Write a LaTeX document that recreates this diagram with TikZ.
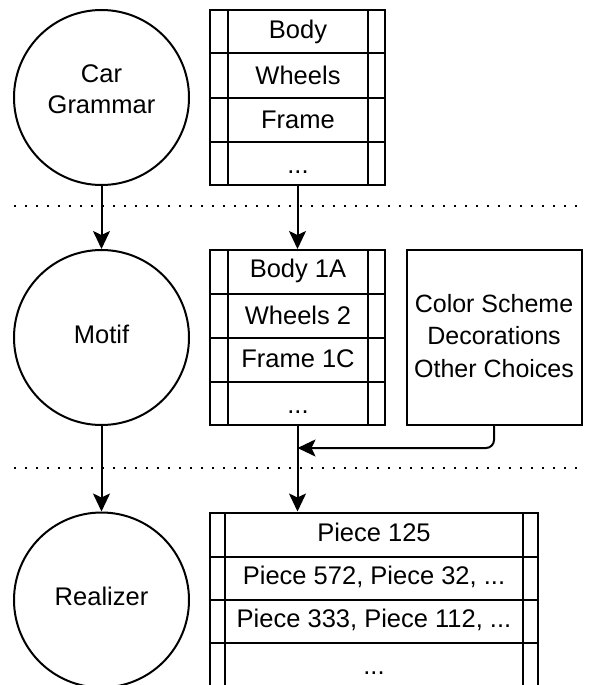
\documentclass[tikz,border=0pt]{standalone}
\usepackage{fontspec}
\setmainfont{Liberation Sans}
\usetikzlibrary{arrows.meta,calc}

\tikzset{
  stroke/.style={line width=2pt, draw=black},
  stage/.style={stroke, circle, minimum size=175pt, inner sep=0pt},
  tableframe/.style={stroke, rectangle, inner sep=0pt},
  cell/.style={inner sep=0pt, font=\fontsize{25.5}{31}\selectfont},
  note/.style={stroke, rectangle, minimum width=175pt, minimum height=175pt,
    inner sep=0pt},
  arr/.style={line width=2pt, -{Stealth[length=18pt, width=17pt, inset=4pt]}},
  sep/.style={line width=2pt, dash pattern=on 2pt off 9pt},
}

\begin{document}
\begin{tikzpicture}[x=1pt, y=-1pt]
\useasboundingbox (0,0) rectangle (589,685);

% Stage circles and their titles
\node[stage] (grammar) at (101.5,97.5) {};
\node[stage] (motif) at (101.5,337.5) {};
\node[stage] (realizer) at (101.5,600) {};
\node[cell, align=center] (grammartext) at (101.5,89) {Car\\Grammar};
\node[cell] (motiftext) at (101.5,334) {Motif};
\node[cell] (realizertext) at (101.5,596) {Realizer};

% Separators between the stages
\draw[sep] (14,206) -- (580,206);
\draw[sep] (14,468) -- (580,468);

% Parts table
\node[tableframe, minimum width=175pt, minimum height=175pt] (parts) at (297.5,97.5) {};
\foreach \y in {53.5,97.5,141.5} \draw[stroke] (210,\y) -- (385,\y);
\draw[stroke] (228,10) -- (228,185);
\draw[stroke] (368,10) -- (368,185);
\node[cell] (p1) at (298,31.5) {Body};
\node[cell] (p2) at (298,75.5) {Wheels};
\node[cell] (p3) at (298,119.5) {Frame};
\node[cell] (p4) at (298,172) {...};

% Chosen parts table
\node[tableframe, minimum width=175pt, minimum height=175pt] (choice) at (297.5,337.5) {};
\foreach \y in {293.5,338,381.5} \draw[stroke] (210,\y) -- (385,\y);
\draw[stroke] (228,250) -- (228,425);
\draw[stroke] (368,250) -- (368,425);
\node[cell] (c1) at (298,271) {Body 1A};
\node[cell] (c2) at (298,315) {Wheels 2};
\node[cell] (c3) at (298,359) {Frame 1C};
\node[cell] (c4) at (298,412) {...};

% Other choices box
\node[note] (other) at (494,337.5) {};
\node[cell, align=center, font=\fontsize{25}{32.5}\selectfont] (othertext) at (494,336)
  {Color Scheme\\Decorations\\Other Choices};

% Pieces table
\node[tableframe, minimum width=328pt, minimum height=175pt] (pieces) at (374,600) {};
\foreach \y in {556.7,600,643.3} \draw[stroke] (210,\y) -- (538,\y);
\draw[stroke] (225,512.5) -- (225,687.5);
\draw[stroke] (523,512.5) -- (523,687.5);
\node[cell] (q1) at (374,532.5) {Piece 125};
\node[cell] (q2) at (374,576.5) {Piece 572, Piece 32, ...};
\node[cell] (q3) at (374,620) {Piece 333, Piece 112, ...};
\node[cell] (q4) at (374,673) {...};

% Connectors
\draw[arr] (grammar.south) -- (motif.north);
\draw[arr] (motif.south) -- (realizer.north);
\draw[arr] (parts.south) -- (choice.north);
\coordinate (join) at ($(choice.south)+(0,22)$);
\draw[arr, rounded corners=8pt] (other.south) |- (join);
\draw[arr] (choice.south) -- (choice.south |- pieces.north);
\end{tikzpicture}
\end{document}
